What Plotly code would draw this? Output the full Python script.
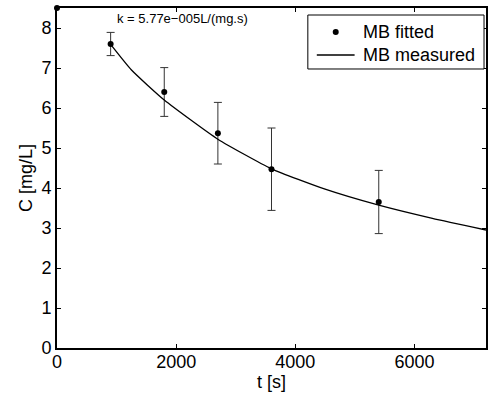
import plotly.graph_objects as go

# measured points (t in s, C in mg/L) with error bar half-widths
t_pts = [900, 1800, 2700, 3600, 5400]
c_pts = [7.6, 6.4, 5.37, 4.47, 3.65]
c_err = [0.29, 0.61, 0.77, 1.03, 0.79]
# initial point
t0 = [0]
c0 = [8.5]
# fitted curve
t_fit = [900, 1250, 1800, 2700, 3600, 4500, 5400, 6300, 7200]
c_fit = [7.59, 6.95, 6.2, 5.22, 4.48, 3.97, 3.57, 3.24, 2.95]

x_ticks = [0, 2000, 4000, 6000]
y_ticks = [0, 1, 2, 3, 4, 5, 6, 7, 8]
legend_names = ["MB fitted", "MB measured"]

FONT = "Liberation Sans, Arial, sans-serif"

fig = go.Figure()
fig.add_trace(go.Scatter(
    x=t_pts, y=c_pts, mode="markers", name=legend_names[0],
    marker=dict(color="black", size=6),
    error_y=dict(type="data", array=c_err, visible=True,
                 color="#333333", thickness=1, width=4),
))
fig.add_trace(go.Scatter(
    x=t_fit, y=c_fit, mode="lines", name=legend_names[1],
    line=dict(color="black", width=1.3, shape="spline", smoothing=0.5),
))
fig.add_trace(go.Scatter(
    x=t0, y=c0, mode="markers", showlegend=False,
    marker=dict(color="black", size=6), cliponaxis=False,
))

fig.add_annotation(
    x=2100, y=8.25, xref="x", yref="y", text="k = 5.77e−005L/(mg.s)",
    showarrow=False, font=dict(size=13, color="black", family=FONT),
    xanchor="center", yanchor="middle",
)

# manual legend (paper coordinates)
fig.add_shape(type="rect", xref="paper", yref="paper",
              x0=0.5847, x1=0.9954, y0=0.8206, y1=0.9794,
              line=dict(color="black", width=1), fillcolor="white", layer="above")
fig.add_shape(type="circle", xref="paper", yref="paper",
              xsizemode="pixel", ysizemode="pixel",
              xanchor=0.6497, yanchor=0.9294, x0=-3, x1=3, y0=-3, y1=3,
              line=dict(color="black", width=0), fillcolor="black", layer="above")
fig.add_shape(type="line", xref="paper", yref="paper",
              x0=0.6056, x1=0.6937, y0=0.8618, y1=0.8618,
              line=dict(color="black", width=1.3), layer="above")
fig.add_annotation(x=0.7077, y=0.9294, xref="paper", yref="paper",
                   text=legend_names[0], showarrow=False, xanchor="left",
                   yanchor="middle", font=dict(size=18, color="black", family=FONT))
fig.add_annotation(x=0.7077, y=0.8618, xref="paper", yref="paper",
                   text=legend_names[1], showarrow=False, xanchor="left",
                   yanchor="middle", font=dict(size=18, color="black", family=FONT))

axis_common = dict(
    showgrid=False, zeroline=False, showline=True, linecolor="black",
    linewidth=2, mirror="ticks", ticks="inside", ticklen=4,
    tickcolor="black", tickwidth=1,
    tickfont=dict(size=18, color="black", family=FONT),
)

fig.update_layout(
    width=488, height=399,
    margin=dict(l=57, r=0, t=8, b=51),
    paper_bgcolor="white", plot_bgcolor="white",
    font=dict(family=FONT, size=18, color="black"),
    xaxis=dict(range=[0, 7200], tickvals=x_ticks, ticklabelstandoff=-4,
               title=dict(text="t [s]", font=dict(size=18), standoff=0),
               **axis_common),
    yaxis=dict(range=[0, 8.5], tickvals=y_ticks,
               title=dict(text="C [mg/L]", font=dict(size=18), standoff=4),
               **axis_common),
    showlegend=False,
)

fig.write_html("out.html")
